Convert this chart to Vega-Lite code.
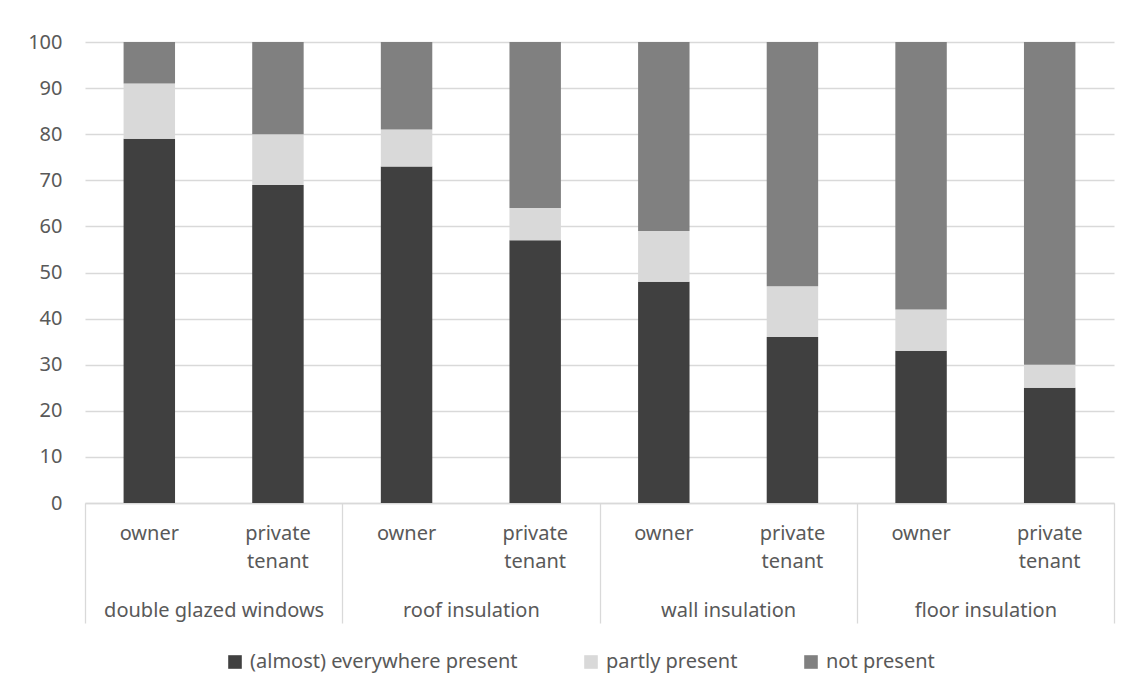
{
  "$schema": "https://vega.github.io/schema/vega-lite/v6.json",
  "width": 1029,
  "height": 461,
  "autosize": {"type": "none"},
  "padding": {"left": 85, "top": 42, "right": 18, "bottom": 190},
  "background": "white",
  "config": {
    "font": "Noto Sans",
    "view": {"stroke": null},
    "axis": {"labelFont": "Noto Sans", "labelColor": "#595959", "labelFontSize": 20, "labelLimit": 400, "title": null}
  },
  "data": {
    "values": [
      {"group": "double glazed windows", "tenure": "owner", "key": "double glazed windows|owner", "status": "(almost) everywhere present", "rank": 1, "value": 79},
      {"group": "double glazed windows", "tenure": "owner", "key": "double glazed windows|owner", "status": "partly present", "rank": 2, "value": 12},
      {"group": "double glazed windows", "tenure": "owner", "key": "double glazed windows|owner", "status": "not present", "rank": 3, "value": 9},
      {"group": "double glazed windows", "tenure": "private tenant", "key": "double glazed windows|private tenant", "status": "(almost) everywhere present", "rank": 1, "value": 69},
      {"group": "double glazed windows", "tenure": "private tenant", "key": "double glazed windows|private tenant", "status": "partly present", "rank": 2, "value": 11},
      {"group": "double glazed windows", "tenure": "private tenant", "key": "double glazed windows|private tenant", "status": "not present", "rank": 3, "value": 20},
      {"group": "roof insulation", "tenure": "owner", "key": "roof insulation|owner", "status": "(almost) everywhere present", "rank": 1, "value": 73},
      {"group": "roof insulation", "tenure": "owner", "key": "roof insulation|owner", "status": "partly present", "rank": 2, "value": 8},
      {"group": "roof insulation", "tenure": "owner", "key": "roof insulation|owner", "status": "not present", "rank": 3, "value": 19},
      {"group": "roof insulation", "tenure": "private tenant", "key": "roof insulation|private tenant", "status": "(almost) everywhere present", "rank": 1, "value": 57},
      {"group": "roof insulation", "tenure": "private tenant", "key": "roof insulation|private tenant", "status": "partly present", "rank": 2, "value": 7},
      {"group": "roof insulation", "tenure": "private tenant", "key": "roof insulation|private tenant", "status": "not present", "rank": 3, "value": 36},
      {"group": "wall insulation", "tenure": "owner", "key": "wall insulation|owner", "status": "(almost) everywhere present", "rank": 1, "value": 48},
      {"group": "wall insulation", "tenure": "owner", "key": "wall insulation|owner", "status": "partly present", "rank": 2, "value": 11},
      {"group": "wall insulation", "tenure": "owner", "key": "wall insulation|owner", "status": "not present", "rank": 3, "value": 41},
      {"group": "wall insulation", "tenure": "private tenant", "key": "wall insulation|private tenant", "status": "(almost) everywhere present", "rank": 1, "value": 36},
      {"group": "wall insulation", "tenure": "private tenant", "key": "wall insulation|private tenant", "status": "partly present", "rank": 2, "value": 11},
      {"group": "wall insulation", "tenure": "private tenant", "key": "wall insulation|private tenant", "status": "not present", "rank": 3, "value": 53},
      {"group": "floor insulation", "tenure": "owner", "key": "floor insulation|owner", "status": "(almost) everywhere present", "rank": 1, "value": 33},
      {"group": "floor insulation", "tenure": "owner", "key": "floor insulation|owner", "status": "partly present", "rank": 2, "value": 9},
      {"group": "floor insulation", "tenure": "owner", "key": "floor insulation|owner", "status": "not present", "rank": 3, "value": 58},
      {"group": "floor insulation", "tenure": "private tenant", "key": "floor insulation|private tenant", "status": "(almost) everywhere present", "rank": 1, "value": 25},
      {"group": "floor insulation", "tenure": "private tenant", "key": "floor insulation|private tenant", "status": "partly present", "rank": 2, "value": 5},
      {"group": "floor insulation", "tenure": "private tenant", "key": "floor insulation|private tenant", "status": "not present", "rank": 3, "value": 70}
    ]
  },
  "layer": [
    {
      "mark": {"type": "bar", "width": {"band": 0.4}},
      "encoding": {
        "x": {
          "field": "key",
          "type": "nominal",
          "sort": null,
          "scale": {"paddingInner": 0, "paddingOuter": 0},
          "axis": {
            "orient": "bottom",
            "domain": false,
            "ticks": false,
            "tickSize": 0,
            "labelAngle": 0,
            "labelPadding": 20,
            "labelLineHeight": 28,
            "labelExpr": "indexof(datum.value, 'private') >= 0 ? ['private', 'tenant'] : 'owner'"
          }
        },
        "y": {
          "field": "value",
          "type": "quantitative",
          "stack": "zero",
          "scale": {"domain": [0, 100], "nice": false},
          "axis": {
            "values": [0, 10, 20, 30, 40, 50, 60, 70, 80, 90, 100],
            "domain": false,
            "ticks": false,
            "labelPadding": 23,
            "gridColor": "#d9d9d9",
            "gridWidth": 1.3
          }
        },
        "color": {
          "field": "status",
          "type": "nominal",
          "scale": {
            "domain": ["(almost) everywhere present", "partly present", "not present"],
            "range": ["#404040", "#d9d9d9", "#808080"]
          },
          "legend": {
            "title": null,
            "orient": "none",
            "direction": "horizontal",
            "legendX": 140,
            "legendY": 610,
            "symbolType": "square",
            "symbolSize": 185,
            "symbolStrokeWidth": 0,
            "labelFont": "Noto Sans",
            "labelFontSize": 20,
            "labelColor": "#595959",
            "labelLimit": 400,
            "labelOffset": 5,
            "columnPadding": 63
          }
        },
        "order": {"field": "rank", "type": "quantitative"}
      }
    },
    {
      "mark": {"type": "rule", "opacity": 0},
      "encoding": {
        "x": {
          "field": "group",
          "type": "nominal",
          "sort": null,
          "scale": {"paddingInner": 0, "paddingOuter": 0},
          "axis": {
            "orient": "bottom",
            "tickBand": "extent",
            "tickSize": 120,
            "tickColor": "#d9d9d9",
            "tickWidth": 1.3,
            "domainColor": "#d9d9d9",
            "domainWidth": 1.3,
            "labelAngle": 0,
            "labelPadding": -23
          }
        }
      }
    }
  ],
  "resolve": {"scale": {"x": "independent"}, "axis": {"x": "independent"}}
}
